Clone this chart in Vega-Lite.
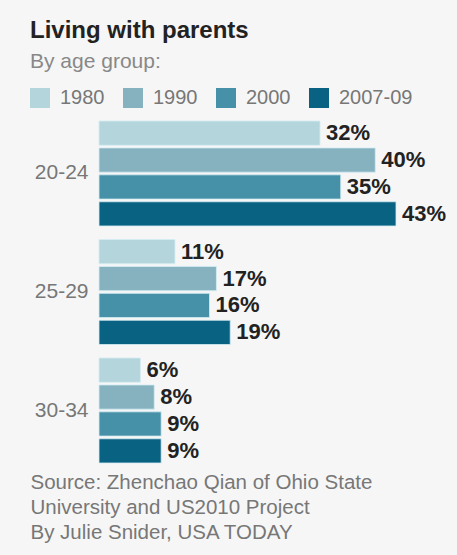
{
  "$schema": "https://vega.github.io/schema/vega-lite/v6.json",
  "width": 297,
  "height": 342,
  "autosize": {"type": "none"},
  "padding": {"left": 99, "top": 121, "right": 61, "bottom": 92},
  "background": "#f6f6f6",
  "config": {"view": {"stroke": null}},
  "title": {
    "text": "Living with parents",
    "subtitle": "By age group:",
    "anchor": "start",
    "frame": "group",
    "dx": -69,
    "font": "Liberation Sans",
    "fontSize": 24,
    "fontWeight": "bold",
    "color": "#222222",
    "subtitleFont": "Liberation Sans",
    "subtitleFontSize": 21,
    "subtitleColor": "#888888",
    "subtitlePadding": 8,
    "offset": 16
  },
  "data": {
    "values": [
      {"age": "20-24", "year": "1980", "share": 0.32},
      {"age": "20-24", "year": "1990", "share": 0.40},
      {"age": "20-24", "year": "2000", "share": 0.35},
      {"age": "20-24", "year": "2007-09", "share": 0.43},
      {"age": "25-29", "year": "1980", "share": 0.11},
      {"age": "25-29", "year": "1990", "share": 0.17},
      {"age": "25-29", "year": "2000", "share": 0.16},
      {"age": "25-29", "year": "2007-09", "share": 0.19},
      {"age": "30-34", "year": "1980", "share": 0.06},
      {"age": "30-34", "year": "1990", "share": 0.08},
      {"age": "30-34", "year": "2000", "share": 0.09},
      {"age": "30-34", "year": "2007-09", "share": 0.09}
    ]
  },
  "encoding": {
    "y": {
      "field": "age",
      "type": "nominal",
      "sort": ["20-24", "25-29", "30-34"],
      "scale": {"paddingInner": 0.114, "paddingOuter": 0},
      "axis": {
        "title": null,
        "ticks": false,
        "domain": false,
        "labelFont": "Liberation Sans",
        "labelFontSize": 21,
        "labelColor": "#777777",
        "labelPadding": 11
      }
    },
    "yOffset": {
      "field": "year",
      "type": "nominal",
      "sort": ["1980", "1990", "2000", "2007-09"],
      "scale": {"paddingInner": 0.1, "paddingOuter": 0}
    },
    "x": {
      "field": "share",
      "type": "quantitative",
      "scale": {"domain": [0, 0.43], "nice": false, "zero": true},
      "axis": {
        "labels": false,
        "ticks": false,
        "domain": false,
        "grid": false,
        "title": ["Source: Zhenchao Qian of Ohio State", "University and US2010 Project", "By Julie Snider, USA TODAY"],
        "titleFont": "Liberation Sans",
        "titleFontSize": 20.5,
        "titleFontWeight": "normal",
        "titleColor": "#777777",
        "titleAlign": "left",
        "titleAnchor": "start",
        "titleBaseline": "alphabetic",
        "titleLineHeight": 25,
        "titleX": -69,
        "titleY": 25
      }
    }
  },
  "layer": [
    {
      "mark": {"type": "bar", "stroke": "#d4eef4", "strokeWidth": 0.8},
      "encoding": {
        "color": {
          "field": "year",
          "type": "nominal",
          "sort": ["1980", "1990", "2000", "2007-09"],
          "scale": {
            "domain": ["1980", "1990", "2000", "2007-09"],
            "range": ["#b4d5dc", "#86b2c0", "#4690a8", "#0a6283"]
          },
          "legend": {
            "title": null,
            "orient": "none",
            "direction": "horizontal",
            "columns": 4,
            "legendX": -69,
            "legendY": -33,
            "symbolType": "square",
            "symbolSize": 400,
            "symbolStrokeWidth": 0,
            "symbolOpacity": 1,
            "labelFont": "Liberation Sans",
            "labelFontSize": 20,
            "labelColor": "#777777",
            "labelOffset": 10,
            "columnPadding": 18
          }
        }
      }
    },
    {
      "mark": {
        "type": "text",
        "align": "left",
        "baseline": "middle",
        "dx": 6,
        "font": "Liberation Sans",
        "fontSize": 22,
        "fontWeight": "bold",
        "color": "#222222"
      },
      "encoding": {
        "text": {"field": "share", "type": "quantitative", "format": ".0%"}
      }
    }
  ]
}
